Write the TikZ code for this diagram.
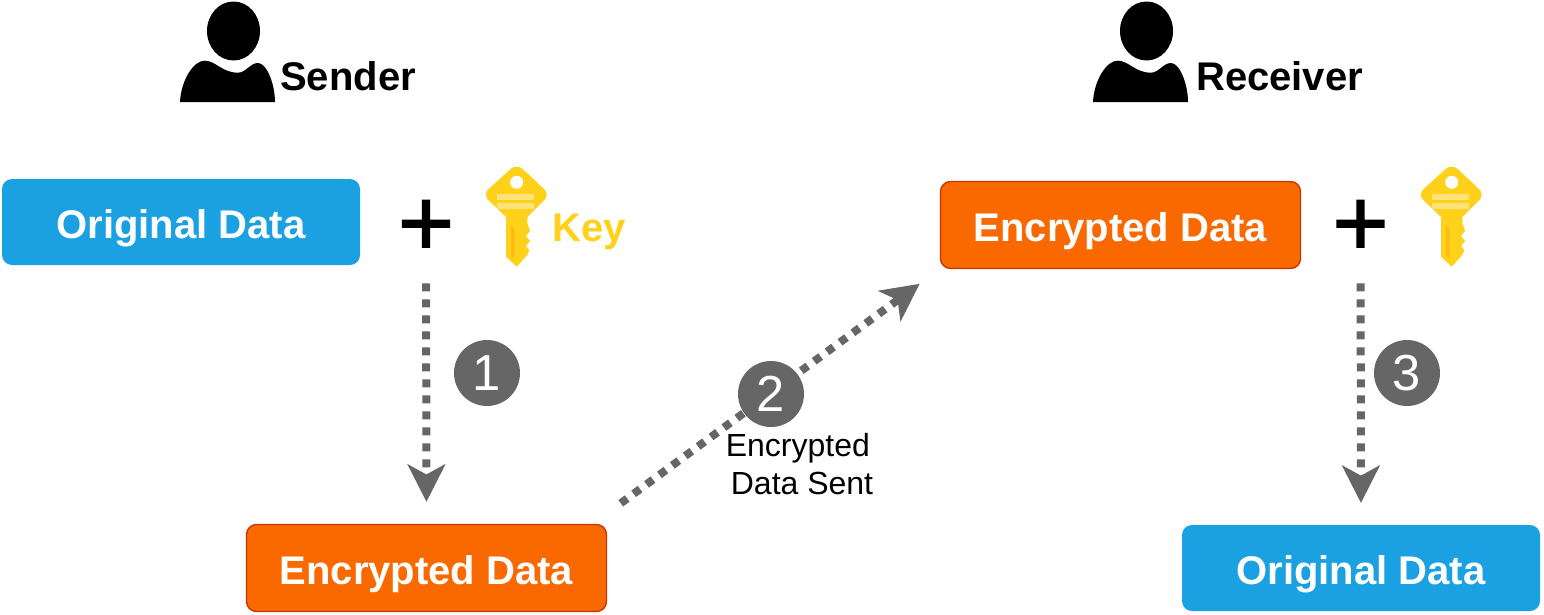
\documentclass[tikz,border=0pt]{standalone}
\usepackage{fontspec}
\setmainfont{Liberation Sans}
\newfontfamily\plusfont[FakeBold=1.5]{Liberation Sans}
\usetikzlibrary{arrows.meta}
\definecolor{bluebox}{HTML}{1BA1E2}
\definecolor{orangebox}{HTML}{FA6800}
\definecolor{orangeline}{HTML}{C73500}
\definecolor{flowgray}{HTML}{666666}
\definecolor{keygold}{HTML}{FFD11A}
\definecolor{keylight}{HTML}{FFE27A}
\definecolor{keydark}{HTML}{FFB90F}
\tikzset{
  databox/.style={rounded corners=7.5pt,outer sep=0pt,text=white,text height=24pt,text depth=0pt,font=\fontsize{30}{36}\selectfont\bfseries},
  plainbox/.style={databox,fill=bluebox,minimum width=268.5pt,minimum height=64.5pt},
  cipherbox/.style={databox,fill=orangebox,draw=orangeline,line width=1pt,minimum width=270pt,minimum height=65.25pt},
  role/.style={font=\fontsize{30}{36}\selectfont\bfseries},
  plus/.style={inner sep=0pt,font=\plusfont\fontsize{72}{72}\selectfont},
  stepnum/.style={circle,fill=flowgray,text=white,inner sep=0pt,minimum size=49.5pt,font=\fontsize{38}{38}\selectfont},
  flow/.style={draw=flowgray,line width=6pt,dash pattern=on 6pt off 6pt,-{Stealth[length=28pt,width=28pt,inset=7.5pt,fill=flowgray]}},
  person/.pic={
    \fill[black] (53.5,31) ellipse [x radius=26.5,y radius=29.5];
    \fill[black] (0,102) .. controls (1,80) and (14,60) .. (25,60.7)
      .. controls (36,61) and (42,72.7) .. (58,72.7)
      .. controls (66,72.7) and (70,63) .. (78,63)
      .. controls (87,63) and (95,85) .. (95,102) -- cycle;
  },
  key/.pic={
    \fill[keygold] (21,89.7) -- (21,50) {[rounded corners=6pt] -- (-2.5,27.5) -- (31.7,-3.5) -- (65,27.5)} -- (42.3,50)
      -- (42.3,56) -- (45,64) -- (41,69) -- (45,74) -- (41,79) -- (44.3,83) -- (42.3,88) -- (31.7,99.7) -- cycle;
    \fill[white] (31.7,15.3) circle [radius=6.5];
    \fill[keylight] (11.7,27.3) rectangle (49.3,33);
    \fill[keylight] (11.7,36.3) rectangle (49.3,42);
    \fill[keydark] (26,58.7) -- (29.3,61.3) -- (29.3,91) -- (26,88) -- cycle;
  }
}
\begin{document}
\begin{tikzpicture}[x=0.75pt,y=-0.75pt]
    \useasboundingbox (0,0) rectangle (1544,614);
    \pic at (180,0) {person};
    \pic at (1093,0) {person};
    \pic at (485,167) {key};
    \pic at (1420,167) {key};
    \node[role] (sender) at (348,76) {Sender};
    \node[role] (receiver) at (1279.5,76) {Receiver};
    \node[role,text=keygold] (keyname) at (589,232) {Key};
    \node[plainbox] (origa) at (181,222) {Original Data};
    \node[cipherbox] (enca) at (426.5,568) {Encrypted Data};
    \node[cipherbox] (encb) at (1120.5,225) {Encrypted Data};
    \node[plainbox] (origb) at (1361,568) {Original Data};
    \node[plus] (plusa) at (426,228) {+};
    \node[plus] (plusb) at (1360.5,228) {+};
    \draw[flow,shorten <=41.6pt,shorten >=17pt] (plusa.center) -- (enca.north);
    \draw[flow,shorten <=26.9pt,shorten >=19.4pt] ([xshift=-11pt]enca.north east) -- (encb.south west);
    \draw[flow,shorten <=41.6pt,shorten >=16.5pt] (plusb.center) -- (origb.north);
    \node[stepnum] (numa) at (487,373) {1};
    \node[stepnum] (numb) at (771,394) {2};
    \node[stepnum] (numc) at (1407,373) {3};
    \node[align=left,inner sep=0pt,font=\fontsize{24}{28.5}\selectfont] (sent) at (799.5,464) {Encrypted\\\hspace*{3.75pt}Data Sent};
\end{tikzpicture}
\end{document}
